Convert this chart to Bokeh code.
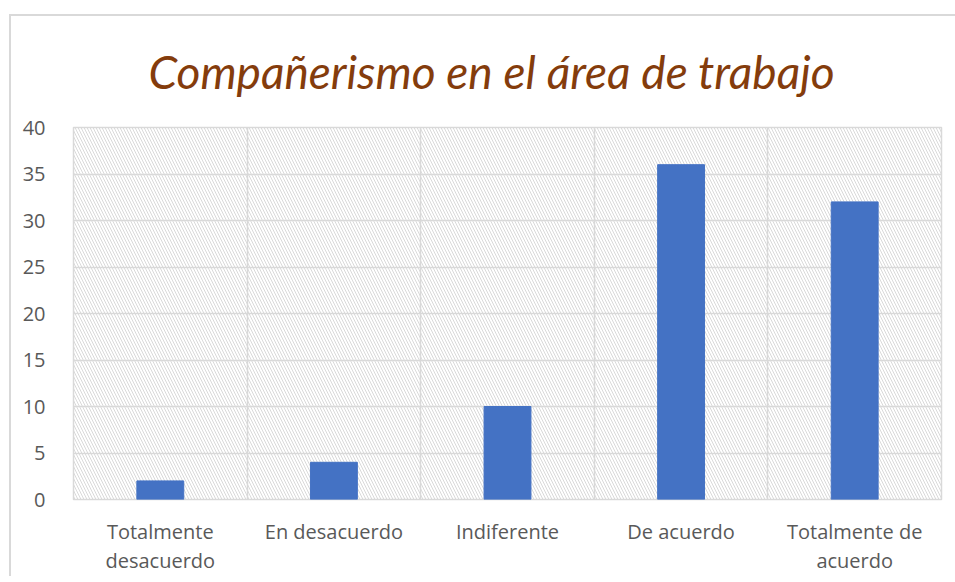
from bokeh.plotting import figure
from bokeh.models import Range1d, FixedTicker, BoxAnnotation
from bokeh.layouts import column
from bokeh.embed import file_html
from bokeh.resources import INLINE

categories = ["Totalmente\ndesacuerdo", "En desacuerdo", "Indiferente", "De acuerdo", "Totalmente de\nacuerdo"]
values = [2, 4, 10, 36, 32]
y_ticks = [0, 5, 10, 15, 20, 25, 30, 35, 40]
title_text = "Compañerismo en el área de trabajo"

xs = [i + 0.5 for i in range(len(categories))]

p = figure(output_backend="svg", toolbar_location=None,
           x_range=Range1d(0, len(categories)), y_range=Range1d(0, 40),
           frame_width=868, frame_height=372,
           min_border_left=62, min_border_top=111, min_border_right=14, min_border_bottom=0,
           title=title_text)
p.background_fill_color = "white"
p.border_fill_color = "white"
p.outline_line_color = "#d9d9d9"
p.outline_line_width = 1.5

p.title.align = "left"
p.title.offset = 75
p.title.standoff = 54
p.title.vertical_align = "top"
p.title.text_font = "Lato"
p.title.text_font_style = "italic"
p.title.text_font_size = "46px"
p.title.text_color = "#843C0C"

hatch = BoxAnnotation(fill_alpha=0, line_alpha=0, hatch_pattern="\\", hatch_color="#d9d9d9",
                      hatch_scale=6, hatch_weight=1, level="image")
p.add_layout(hatch)

p.vbar(x=xs, top=values, width=0.27, color="#4472C4")

p.xaxis.ticker = FixedTicker(ticks=xs)
p.xaxis.major_label_overrides = {x: c for x, c in zip(xs, categories)}
p.yaxis.ticker = FixedTicker(ticks=y_ticks)
for ax in (p.xaxis[0], p.yaxis[0]):
    ax.axis_line_color = None
    ax.major_tick_line_color = None
    ax.minor_tick_line_color = None
    ax.major_label_text_font = "Open Sans"
    ax.major_label_text_font_size = "20px"
    ax.major_label_text_color = "#595959"
p.xaxis.major_label_text_line_height = 1.08
p.xaxis.major_label_standoff = 12
p.yaxis.major_label_standoff = 22

p.xgrid.ticker = FixedTicker(ticks=[1, 2, 3, 4])
p.ygrid.ticker = FixedTicker(ticks=y_ticks)
p.xgrid.grid_line_color = "#d9d9d9"
p.ygrid.grid_line_color = "#d9d9d9"
p.xgrid.grid_line_width = 1.5
p.ygrid.grid_line_width = 1.5

lay = column(p)
lay.styles = {"margin-left": "9px", "margin-top": "14px",
              "border-top": "2px solid #d9d9d9", "border-left": "2px solid #d9d9d9"}

open("out.html", "w").write(file_html(lay, INLINE))
